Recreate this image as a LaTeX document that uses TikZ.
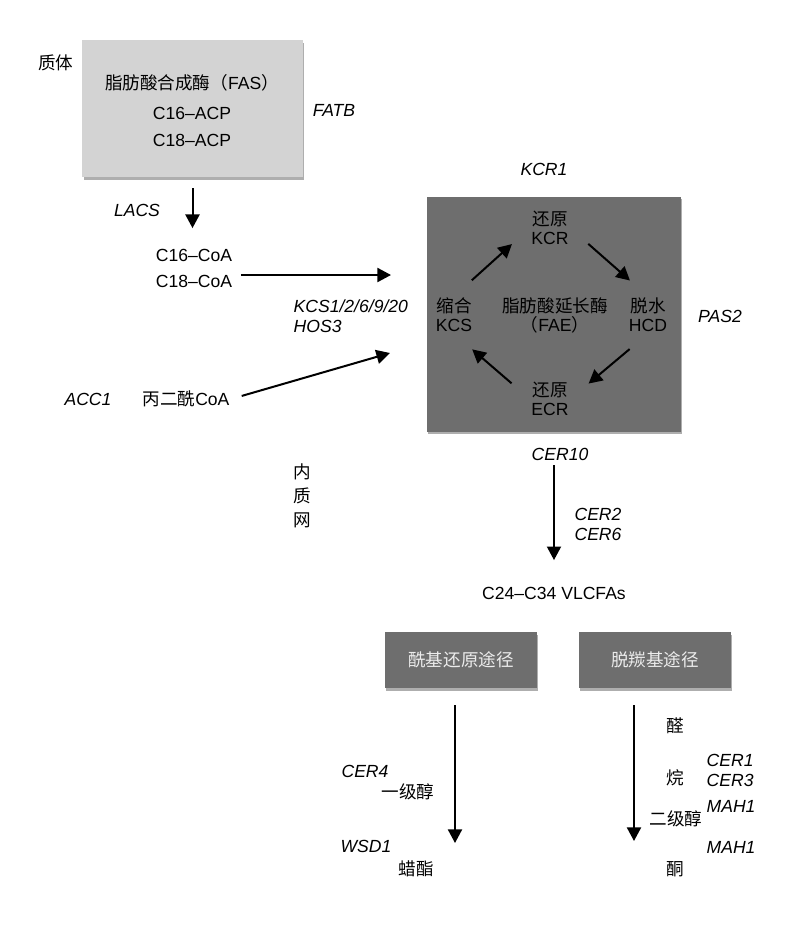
\documentclass[tikz,border=0pt]{standalone}
\usepackage{fontspec}
\setmainfont{Liberation Sans}
\newfontfamily\cjk{Noto Sans CJK SC}
\usetikzlibrary{arrows.meta, positioning, shadows}
\definecolor{plastidgray}{HTML}{D3D3D3}
\definecolor{ergray}{HTML}{6E6E6E}
\definecolor{pathtext}{HTML}{ECECEC}
\newcommand{\zh}[1]{{\cjk #1}}

\begin{document}
\begin{tikzpicture}[x=0.25mm, y=-0.25mm,
    every node/.style={font=\fontsize{12.5}{14}\selectfont, inner sep=1pt},
    shadowed/.style={drop shadow={shadow xshift=0.3mm, shadow yshift=-0.7mm, fill=black!70, opacity=0.45}},
    fasbox/.style={rectangle, shadowed, fill=plastidgray, minimum width=55mm, minimum height=34.25mm},
    elongbox/.style={rectangle, shadowed, fill=ergray, minimum width=63.5mm, minimum height=58.75mm},
    pathbox/.style={rectangle, shadowed, fill=ergray, text=pathtext, minimum width=38mm, minimum height=14mm},
    lbl/.style={align=center, font=\fontsize{12.5}{13.5}\selectfont},
    gene/.style={font=\fontsize{12.5}{14.2}\selectfont\itshape},
    arr/.style={-{Triangle[length=3.4mm, width=3.5mm]}, line width=0.5mm},
  ]
  \useasboundingbox (0,0) rectangle (800,927);

  % Plastid: FAS
  \node[fasbox] (fasbox) at (192.5,108.5) {};
  \node (fastitle) at (192,83) {\zh{脂肪酸合成酶（}FAS\zh{）}};
  \node (c16acp) at (192,113) {C16–ACP};
  \node (c18acp) at (192,140) {C18–ACP};
  \node (plastid) at (56,63) {\zh{质体}};
  \node[gene] (fatb) at (334,110) {FATB};

  % Acyl-CoA and malonyl-CoA
  \node[gene] (lacs) at (137,210) {LACS};
  \node (c16coa) at (194,255) {C16–CoA};
  \node (c18coa) at (194,281) {C18–CoA};
  \node[gene] (acc1) at (88,399) {ACC1};
  \node (malonyl) at (186,399) {\zh{丙二酰}CoA};
  \node[gene, align=left, anchor=west] (kcsgenes) at (292,316) {KCS1/2/6/9/20\\HOS3};
  \node[align=center, font=\fontsize{12.5}{17}\selectfont] (er) at (302,496) {\zh{内}\\\zh{质}\\\zh{网}};

  % ER: FAE cycle
  \node[elongbox] (faebox) at (554,314) {};
  \node[lbl] (kcr) at (550,228) {\zh{还原}\\KCR};
  \node[lbl] (kcs) at (454,315) {\zh{缩合}\\KCS};
  \node[lbl] (fae) at (555,315) {\zh{脂肪酸延长酶}\\\zh{（}FAE\zh{）}};
  \node[lbl] (hcd) at (648,315) {\zh{脱水}\\HCD};
  \node[lbl] (ecr) at (550,399) {\zh{还原}\\ECR};
  \node[gene] (kcr1) at (544,169) {KCR1};
  \node[gene] (pas2) at (720,316) {PAS2};
  \node[gene] (cer10) at (560,454) {CER10};

  % VLCFAs and pathways
  \node (vlcfa) at (554,593) {C24–C34 VLCFAs};
  \node[gene, align=left] (cer26) at (598,524) {CER2\\CER6};
  \node[pathbox] (acylbox) at (461,660) {\zh{酰基还原途径}};
  \node[pathbox] (decarbbox) at (655,660) {\zh{脱羰基途径}};

  \node[gene] (cer4) at (365,771) {CER4};
  \node (alcohol1) at (408,792) {\zh{一级醇}};
  \node[gene] (wsd1) at (366,846) {WSD1};
  \node (wax) at (416,869) {\zh{蜡酯}};

  \node (aldehyde) at (675,726) {\zh{醛}};
  \node (alkane) at (675,778) {\zh{烷}};
  \node (alcohol2) at (676,819) {\zh{二级醇}};
  \node (ketone) at (675,869) {\zh{酮}};
  \node[gene, anchor=west] (cer1) at (705,760) {CER1};
  \node[gene, anchor=west] (cer3) at (705,780) {CER3};
  \node[gene, anchor=west] (mah1a) at (705,806) {MAH1};
  \node[gene, anchor=west] (mah1b) at (705,847) {MAH1};

  % Arrows
  \coordinate (coain) at (391,275);
  \coordinate (malin) at (390,353);
  \coordinate (acylend) at (455,843);
  \coordinate (decarbend) at (634,841);
  \draw[arr, shorten <=2.75mm, shorten >=4.75mm] (fasbox.south) -- (fasbox.south |- c16coa.north);
  \draw[arr, shorten <=1.75mm] (c18coa.east |- coain) -- (coain);
  \draw[arr, shorten <=2.75mm] (malonyl.east) -- (malin);
  \draw[arr, shorten <=6mm, shorten >=6mm] (kcs.north) -- (kcr.west);
  \draw[arr, shorten <=6mm, shorten >=6mm] (kcr.east) -- (hcd.north);
  \draw[arr, shorten <=6mm, shorten >=6mm] (hcd.south) -- (ecr.east);
  \draw[arr, shorten <=6mm, shorten >=6mm] (ecr.west) -- (kcs.south);
  \draw[arr, shorten <=8.4mm, shorten >=6.25mm] (faebox.south) -- (vlcfa.north);
  \draw[arr, shorten <=4.25mm] (acylbox.south -| acylend) -- (acylend);
  \draw[arr, shorten <=4.25mm] (decarbbox.south -| decarbend) -- (decarbend);
\end{tikzpicture}
\end{document}
